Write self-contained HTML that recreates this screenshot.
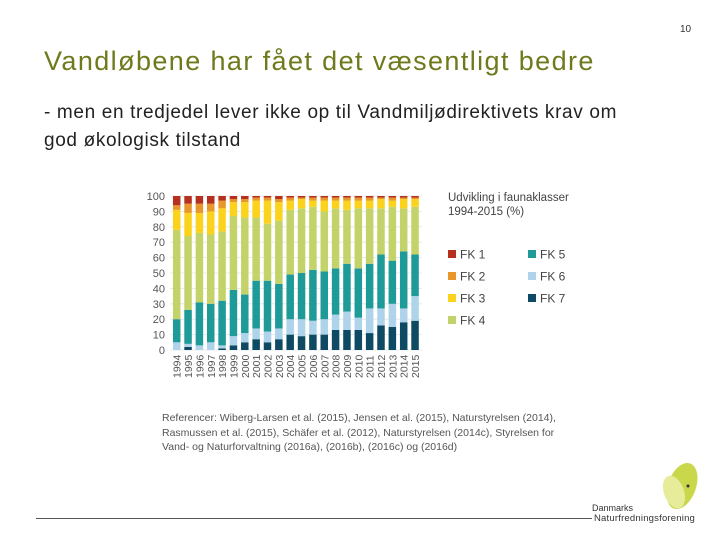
<!DOCTYPE html>
<html><head><meta charset="utf-8"><style>
body{margin:0;width:720px;height:540px;background:#fff;font-family:"Liberation Sans",sans-serif;position:relative;overflow:hidden}
.a{position:absolute;white-space:nowrap}
</style></head><body>
<div class="a" style="left:680px;top:24px;font-size:10px;color:#333">10</div>
<div class="a" style="left:44px;top:46px;font-size:27px;letter-spacing:1.4px;color:#6f7a1c">Vandløbene har fået det væsentligt bedre</div>
<div class="a" style="left:44px;top:99px;font-size:19px;letter-spacing:0.65px;line-height:28px;color:#222">- men en tredjedel lever ikke op til Vandmiljødirektivets krav om<br>god økologisk tilstand</div>
<svg id="chart" class="a" style="left:0;top:0" width="720" height="540"></svg>
<div class="a" style="left:448px;top:191px;font-size:11.5px;line-height:14px;color:#444">Udvikling i faunaklasser<br>1994-2015 (%)</div>
<div class="a" style="left:162px;top:411px;font-size:10.5px;line-height:14.5px;color:#555">Referencer: Wiberg-Larsen et al. (2015), Jensen et al. (2015), Naturstyrelsen (2014),<br>Rasmussen et al. (2015), Schäfer et al. (2012), Naturstyrelsen (2014c), Styrelsen for<br>Vand- og Naturforvaltning (2016a), (2016b), (2016c) og (2016d)</div>
<div class="a" style="left:36px;top:518px;width:556px;height:1px;background:#555"></div>
<svg class="a" style="left:590px;top:458px" width="120" height="70">
<ellipse cx="92" cy="28" rx="14" ry="24" fill="#c8d84a" transform="rotate(20 92 28)"/>
<ellipse cx="84" cy="34" rx="10" ry="17" fill="#e6ec9a" transform="rotate(-20 84 34)"/>
<circle cx="98" cy="28" r="1.5" fill="#333"/>
<text x="2" y="53" font-size="9" fill="#333" font-family="Liberation Sans">Danmarks</text>
<text x="4" y="63" font-size="9.5" letter-spacing="0.2" fill="#333" font-family="Liberation Sans">Naturfredningsforening</text>
</svg>
<script>
const years=["1994","1995","1996","1997","1998","1999","2000","2001","2002","2003","2004","2005","2006","2007","2008","2009","2010","2011","2012","2013","2014","2015"];
const fk7=[0,2,0,0,1,3,5,7,5,7,10,9,10,10,13,13,13,11,16,15,18,19];
const fk6=[5,2,3,5,2,6,6,7,7,7,10,11,9,10,10,12,8,16,11,15,9,16];
const fk5=[15,22,28,25,29,30,25,31,33,29,29,30,33,31,30,31,32,29,35,28,37,27];
const fk4=[58,48,45,45,45,48,50,41,37,41,42,42,41,39,39,35,39,36,30,35,28,31];
const fk3=[13,15,13,15,15,9,10,11,15,12,6,6,4,7,5,6,5,5,6,4,6,5];
const fk2=[3,6,6,5,5,2,2,2,2,2,2,1,2,2,2,2,2,2,1,2,1,1];
const fk1=[6,5,5,5,3,2,2,1,1,2,1,1,1,1,1,1,1,1,1,1,1,1];
const yTicks=[0,10,20,30,40,50,60,70,80,90,100];
const series=[["FK 7",fk7,"#0e4a63"],["FK 6",fk6,"#aed3ea"],["FK 5",fk5,"#1e9a98"],["FK 4",fk4,"#c3d36a"],["FK 3",fk3,"#fcd31c"],["FK 2",fk2,"#e8972a"],["FK 1",fk1,"#b5301f"]];
const NS="http://www.w3.org/2000/svg",svg=document.getElementById("chart");
const y=v=>350-v*1.54, x=i=>176.7+i*11.35, bw=7.5;
function el(t,a){const e=document.createElementNS(NS,t);for(const k in a)e.setAttribute(k,a[k]);svg.appendChild(e);return e;}
yTicks.forEach(t=>{
 const g=el("line",{x1:170,x2:422,y1:y(t),y2:y(t),stroke:"#e4e4e4","stroke-width":0.8});
 
 
 const l=el("text",{x:165,y:y(t)+4,"text-anchor":"end","font-size":11,fill:"#555","font-family":"Liberation Sans"});
 l.textContent=t;
 
 
});
years.forEach((yr,i)=>{
 let c=0;
 series.forEach(s=>{
  const v=s[1][i];
  const r=el("rect",{x:x(i)-bw/2,y:y(c+v),width:bw,height:v*1.54,fill:s[2]});
  
  
  c+=v;
 });
 const t=el("text",{transform:`translate(${x(i)+4},378) rotate(-90)`,"font-size":10.5,fill:"#555","font-family":"Liberation Sans"});
 t.textContent=yr;
 
 
});
const leg=[["FK 1","#b5301f",448,254],["FK 2","#e8972a",448,276],["FK 3","#fcd31c",448,298],["FK 4","#c3d36a",448,320],["FK 5","#1e9a98",528,254],["FK 6","#aed3ea",528,276],["FK 7","#0e4a63",528,298]];
leg.forEach(l=>{
 const r=el("rect",{x:l[2],y:l[3]-4,width:8,height:8,fill:l[1]});
 
 
 const t=el("text",{x:l[2]+12,y:l[3]+4.5,"font-size":12,fill:"#444","font-family":"Liberation Sans"});
 t.textContent=l[0];
 
 
});
</script>
</body></html>
